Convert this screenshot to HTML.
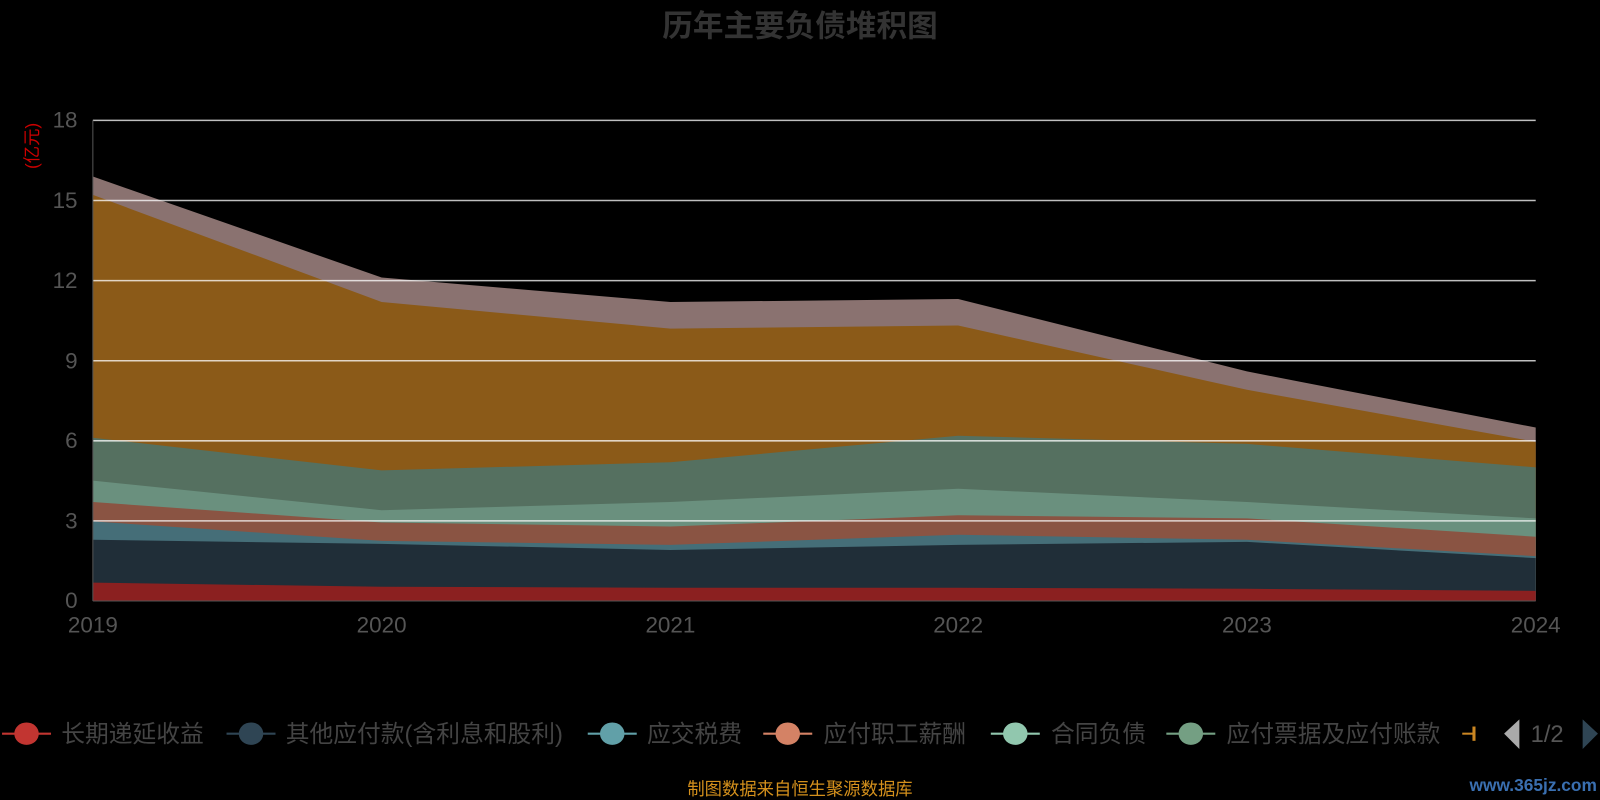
<!DOCTYPE html>
<html><head><meta charset="utf-8"><style>
body{margin:0;background:#000;}
svg{display:block;font-family:"Liberation Sans","Noto Sans CJK SC",sans-serif;}
</style></head><body>
<svg width="1600" height="800" viewBox="0 0 1568 784">
<rect width="1568" height="784" fill="#000"/>
<text x="784" y="36" text-anchor="middle" font-size="30" font-weight="bold" fill="#333">历年主要负债堆积图</text>
<text transform="translate(37,143) rotate(-90)" text-anchor="middle" font-size="17" fill="#c00">(亿元)</text>
<g>
<polygon fill="#8a7270" points="91,173 374,272 657,296 939,293 1222,364 1505,419 1505,589 91,589"/>
<polygon fill="#8b5a18" points="91,191 374,296 657,322 939,319 1222,382 1505,433 1505,589 91,589"/>
<polygon fill="#557060" points="91,429 374,461 657,453 939,427 1222,435 1505,458 1505,589 91,589"/>
<polygon fill="#6a907e" points="91,471 374,500 657,492 939,479 1222,492 1505,508 1505,589 91,589"/>
<polygon fill="#8a5443" points="91,492 374,512 657,516 939,505 1222,508 1505,526 1505,589 91,589"/>
<polygon fill="#456e78" points="91,511 374,530 657,534 939,524 1222,529 1505,545 1505,589 91,589"/>
<polygon fill="#202e38" points="91,529 374,533 657,539 939,534 1222,531 1505,547 1505,589 91,589"/>
<polygon fill="#8b2020" points="91,571 374,575 657,576 939,576 1222,577 1505,579 1505,589 91,589"/>
</g>
<g stroke="#fff" stroke-width="1.5" opacity="0.75">
<line x1="91" y1="118" x2="1505" y2="118"/>
<line x1="91" y1="196.5" x2="1505" y2="196.5"/>
<line x1="91" y1="275" x2="1505" y2="275"/>
<line x1="91" y1="353.5" x2="1505" y2="353.5"/>
<line x1="91" y1="432" x2="1505" y2="432"/>
<line x1="91" y1="510.5" x2="1505" y2="510.5"/>
</g>
<line x1="91" y1="118" x2="91" y2="589" stroke="#555"/>
<line x1="91" y1="589" x2="1505" y2="589" stroke="#555"/>
<g font-size="22" fill="#555" text-anchor="end">
<text x="76" y="125">18</text><text x="76" y="204">15</text><text x="76" y="282">12</text>
<text x="76" y="361">9</text><text x="76" y="439">6</text><text x="76" y="518">3</text><text x="76" y="596">0</text>
</g>
<g font-size="22" fill="#555" text-anchor="middle">
<text x="91" y="620">2019</text><text x="374" y="620">2020</text><text x="657" y="620">2021</text>
<text x="939" y="620">2022</text><text x="1222" y="620">2023</text><text x="1505" y="620">2024</text>
</g>
<g font-size="23.3" fill="#444">
<line x1="2" y1="719" x2="50" y2="719" stroke="#c23531" stroke-width="2"/><ellipse cx="26" cy="719" rx="12" ry="11" fill="#c23531"/>
<text x="60" y="727">长期递延收益</text>
<line x1="222" y1="719" x2="270" y2="719" stroke="#2f4554" stroke-width="2"/><ellipse cx="246" cy="719" rx="12" ry="11" fill="#2f4554"/>
<text x="280" y="727">其他应付款(含利息和股利)</text>
<line x1="576" y1="719" x2="624" y2="719" stroke="#61a0a8" stroke-width="2"/><ellipse cx="600" cy="719" rx="12" ry="11" fill="#61a0a8"/>
<text x="634" y="727">应交税费</text>
<line x1="748" y1="719" x2="796" y2="719" stroke="#d48265" stroke-width="2"/><ellipse cx="772" cy="719" rx="12" ry="11" fill="#d48265"/>
<text x="807" y="727">应付职工薪酬</text>
<line x1="971" y1="719" x2="1019" y2="719" stroke="#91c7ae" stroke-width="2"/><ellipse cx="995" cy="719" rx="12" ry="11" fill="#91c7ae"/>
<text x="1030" y="727">合同负债</text>
<line x1="1143" y1="719" x2="1191" y2="719" stroke="#749f83" stroke-width="2"/><ellipse cx="1167" cy="719" rx="12" ry="11" fill="#749f83"/>
<text x="1202" y="727">应付票据及应付账款</text>
<line x1="1433" y1="719" x2="1445" y2="719" stroke="#ca8622" stroke-width="2"/><rect x="1443" y="712" width="3" height="14" fill="#ca8622"/>
<polygon points="1489,705 1474,719 1489,734" fill="#aaa"/>
<text x="1500" y="727" fill="#555">1/2</text>
<polygon points="1551,705 1566,719 1551,734" fill="#2f4554"/>
</g>
<text x="784" y="779" text-anchor="middle" font-size="17" fill="#d4901c">制图数据来自恒生聚源数据库</text>
<text x="1565" y="775" text-anchor="end" font-size="17" font-weight="bold" fill="#3a6fb0">www.365jz.com</text>
</svg>
</body></html>
